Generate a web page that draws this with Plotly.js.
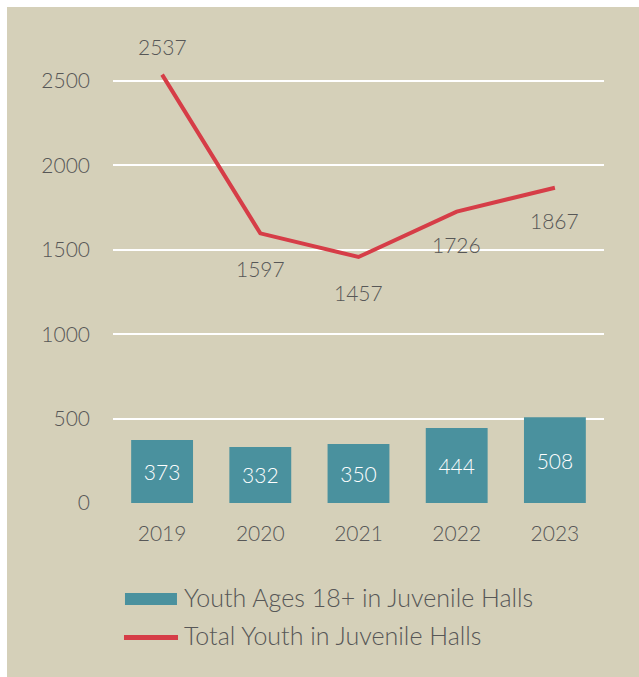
<!DOCTYPE html>
<html>
<head>
<meta charset="utf-8">
<script src="https://cdn.plot.ly/plotly-3.0.1.min.js"></script>
<style>
html,body{margin:0;padding:0;background:#ffffff;}
#chart{position:absolute;left:7px;top:7px;width:632px;height:670px;}
</style>
</head>
<body>
<div id="chart"></div>
<script>
const years = ['2019', '2020', '2021', '2022', '2023'];
const youth18Plus = [373, 332, 350, 444, 508];
const totalYouth = [2537, 1597, 1457, 1726, 1867];
const totalLabelShift = [28, -35, -36, -33, -33];
const yTicks = [0, 500, 1000, 1500, 2000, 2500];
const yTickText = ['0', '500', '1000', '1500', '2000', '2500'];
const seriesNames = ['Youth Ages 18+ in Juvenile Halls', 'Total Youth in Juvenile Halls'];

const font = 'Lato, "Noto Sans", sans-serif';
const gray = '#575757';
const teal = '#4a919e';
const red = '#d63d47';

const traces = [
  {
    type: 'bar',
    x: years,
    y: youth18Plus,
    name: seriesNames[0],
    marker: {color: teal},
    text: youth18Plus.map(String),
    textposition: 'inside',
    insidetextanchor: 'middle',
    textfont: {color: '#ffffff', size: 21, family: font, weight: 300},
    showlegend: false
  },
  {
    type: 'scatter',
    mode: 'lines',
    x: years,
    y: totalYouth,
    name: seriesNames[1],
    line: {color: red, width: 4},
    showlegend: false
  }
];

// value labels for the line, placed on the category index of each year
const annotations = years.map((yr, i) => ({
  x: i, y: totalYouth[i], xref: 'x', yref: 'y',
  text: String(totalYouth[i]), showarrow: false,
  yshift: totalLabelShift[i],
  font: {size: 21, color: gray, family: font, weight: 300}
}));

// manual legend (wide swatches like the reference)
annotations.push(
  {xref: 'paper', yref: 'paper', x: 0.1405, y: -0.2141, xanchor: 'left', yanchor: 'middle',
   text: seriesNames[0], showarrow: false, font: {size: 25, color: gray, family: font, weight: 300}},
  {xref: 'paper', yref: 'paper', x: 0.1405, y: -0.3007, xanchor: 'left', yanchor: 'middle',
   text: seriesNames[1], showarrow: false, font: {size: 25, color: gray, family: font, weight: 300}}
);

const shapes = [
  {type: 'rect', xref: 'paper', yref: 'paper', x0: 0.0244, x1: 0.1303, y0: -0.2323, y1: -0.2050,
   fillcolor: teal, line: {width: 0}},
  {type: 'line', xref: 'paper', yref: 'paper', x0: 0.0224, x1: 0.1324, y0: -0.3064, y1: -0.3064,
   line: {color: red, width: 5, cap: 'round'}}
];

const layout = {
  width: 632,
  height: 670,
  paper_bgcolor: '#d5d0b9',
  plot_bgcolor: '#d5d0b9',
  margin: {l: 106, r: 35, t: 57, b: 174},
  bargap: 0.37,
  font: {family: font, color: gray, size: 18},
  showlegend: false,
  xaxis: {
    type: 'category',
    categoryorder: 'array',
    categoryarray: years,
    range: [-0.5, years.length - 0.5],
    showgrid: false,
    zeroline: false,
    showline: false,
    ticks: '',
    ticklabelstandoff: 16,
    tickfont: {size: 21, color: gray, weight: 300}
  },
  yaxis: {
    range: [0, 2600],
    tickvals: yTicks,
    ticktext: yTickText,
    showgrid: true,
    gridcolor: '#ffffff',
    gridwidth: 2,
    zeroline: false,
    showline: false,
    ticks: '',
    ticklabelstandoff: 22,
    tickfont: {size: 21, color: gray, weight: 300}
  },
  annotations: annotations,
  shapes: shapes
};

Plotly.newPlot('chart', traces, layout, {displayModeBar: false, staticPlot: true});
</script>
</body>
</html>
